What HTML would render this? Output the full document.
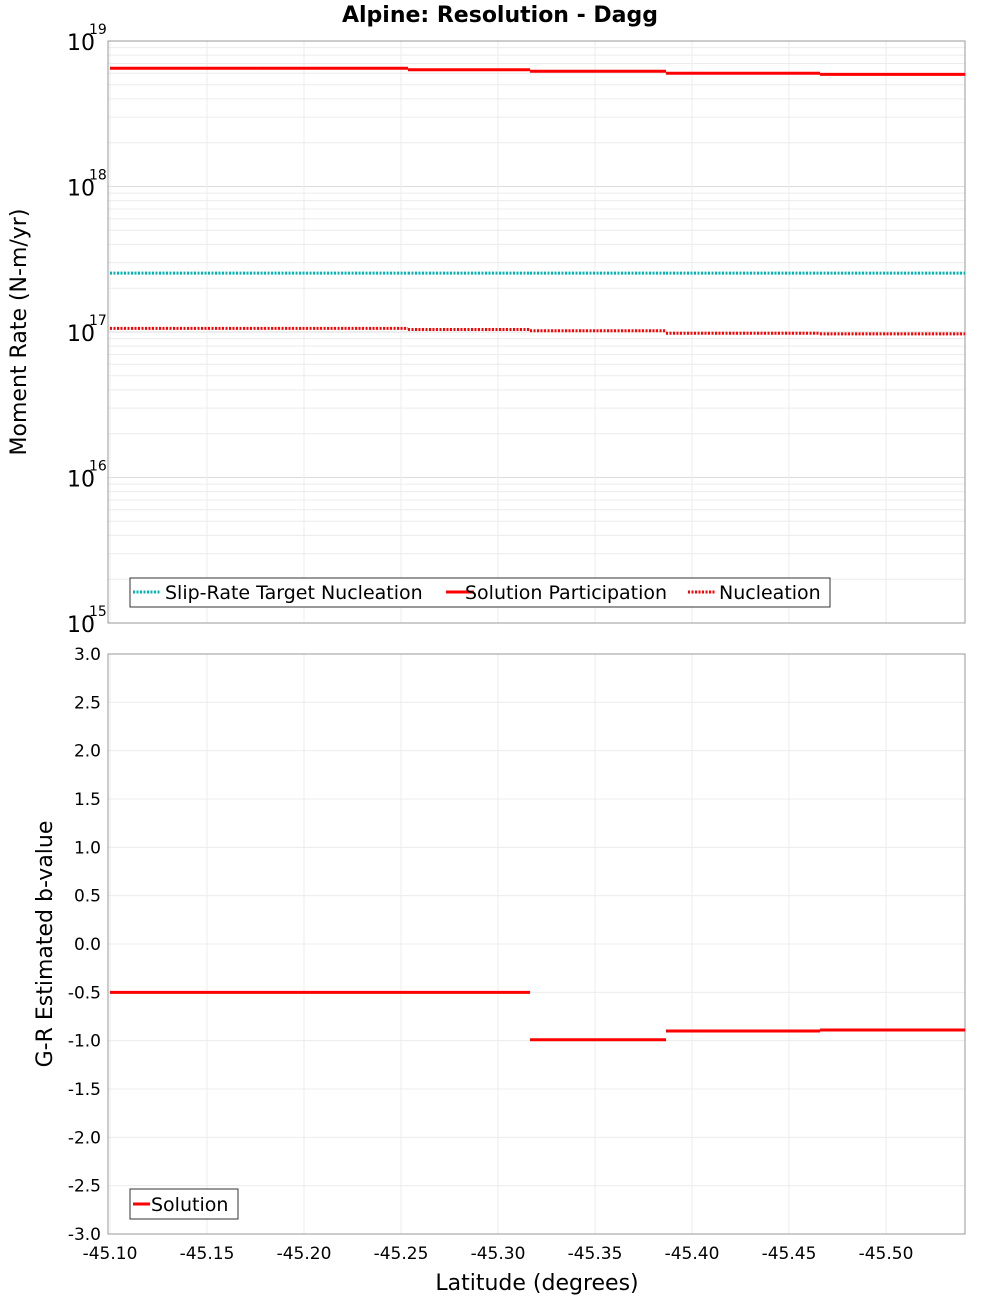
<!DOCTYPE html>
<html><head><meta charset="utf-8"><style>
body{margin:0;background:#fff;font-family:"DejaVu Sans","Liberation Sans",sans-serif;}
</style></head><body>
<svg id="chart" width="1000" height="1300" xmlns="http://www.w3.org/2000/svg" font-family="DejaVu Sans, Liberation Sans, sans-serif">
<text x="500" y="22" text-anchor="middle" font-size="22" font-weight="bold">Alpine: Resolution - Dagg</text>
<g id="topG"></g><g id="botG"></g>
</svg>
<script>
const segEdges = [-45.10, -45.1758, -45.2536, -45.3165, -45.3866, -45.4660, -45.5407];
const targetNucleation = [2.54e17, 2.54e17, 2.54e17, 2.54e17, 2.54e17, 2.54e17];
const solutionParticipation = [6.5e18, 6.5e18, 6.35e18, 6.2e18, 6.0e18, 5.9e18];
const nucleation = [1.06e17, 1.06e17, 1.04e17, 1.02e17, 0.98e17, 0.97e17];
const bValues = [-0.5, -0.5, -0.5, -0.99, -0.9, -0.89];
const xTicks = [-45.10, -45.15, -45.20, -45.25, -45.30, -45.35, -45.40, -45.45, -45.50];
const logExps = [15, 16, 17, 18, 19];
const bTicks = [-3.0,-2.5,-2.0,-1.5,-1.0,-0.5,0.0,0.5,1.0,1.5,2.0,2.5,3.0];

const NS="http://www.w3.org/2000/svg";
const L=108,R=965;
const xs=v=>110+(-45.10-v)/0.05*97;
const T1=41,B1=623;
const ys1=v=>B1-(Math.log10(v)-15)/4*(B1-T1);
const T2=654,B2=1234;
const ys2=v=>B2-(v+3)/6*(B2-T2);
function mk(p,tag,a,txt){const e=document.createElementNS(NS,tag);for(const k in a)e.setAttribute(k,a[k]);if(txt!==undefined)e.textContent=txt;p.appendChild(e);return e;}
const topG=document.getElementById('topG'),botG=document.getElementById('botG');

for(let e=15;e<19;e++)for(let m=2;m<10;m++){const y=ys1(m*Math.pow(10,e));
 const g=mk(topG,'line',{x1:L,x2:R,y1:y,y2:y,stroke:'#ececec','stroke-width':1});
 
 }
logExps.forEach(e=>{const y=ys1(Math.pow(10,e));
 const g=mk(topG,'line',{x1:L,x2:R,y1:y,y2:y,stroke:'#dcdcdc','stroke-width':1});
 
 
 const t=mk(topG,'text',{x:95,y:y+9,'text-anchor':'end','font-size':22},'10');
 
 
 const s=mk(topG,'text',{x:89,y:y-7,'font-size':14},String(e));
 
 
});
xTicks.forEach(v=>{const x=xs(v);
 [[topG,T1,B1],[botG,T2,B2]].forEach(([p,a,b])=>{const g=mk(p,'line',{x1:x,x2:x,y1:a,y2:b,stroke:'#ececec'});
 
 });
 const t=mk(botG,'text',{x:x,y:1259,'text-anchor':'middle','font-size':17},v.toFixed(2));
 
 
});
const f1=mk(topG,'rect',{x:L,y:T1,width:R-L,height:B1-T1,fill:'none',stroke:'#999'});



function steps(p,arr,ys,color,dash,name){
 arr.forEach((v,i)=>{const l=mk(p,'line',{x1:xs(segEdges[i]),x2:xs(segEdges[i+1]),y1:ys(v),y2:ys(v),stroke:color,'stroke-width':3});
 if(dash)l.setAttribute('stroke-dasharray',dash);
 
 });
}
steps(topG,targetNucleation,ys1,'#00b4b4','2,1.5','target-nucleation-segment');
steps(topG,solutionParticipation,ys1,'#ff0000',null,'solution-participation-segment');
steps(topG,nucleation,ys1,'#ff0000','2,1.5','nucleation-segment');

const ya=mk(topG,'text',{transform:'translate(26,332) rotate(-90)','text-anchor':'middle','font-size':22},'Moment Rate (N-m/yr)');



const lg=mk(topG,'g',{});


mk(lg,'rect',{x:130,y:578,width:700,height:29,fill:'#fff',stroke:'#333'});
[[133,'#00b4b4','2,1.5','Slip-Rate Target Nucleation',165],[446,'#ff0000',null,'Solution Participation',465],[688,'#ff0000','2,1.5','Nucleation',719]].forEach(([x,c,d,t,tx])=>{
 const l=mk(lg,'line',{x1:x,x2:x+28,y1:592,y2:592,stroke:c,'stroke-width':3});if(d)l.setAttribute('stroke-dasharray',d);
 
 
 const tt=mk(lg,'text',{x:tx,y:599,'font-size':19},t);
 
 });

bTicks.forEach(v=>{const y=ys2(v);
 const g=mk(botG,'line',{x1:L,x2:R,y1:y,y2:y,stroke:'#ececec'});
 
 
 const t=mk(botG,'text',{x:101,y:y+6,'text-anchor':'end','font-size':17},v.toFixed(1));
 
 });
const f2=mk(botG,'rect',{x:L,y:T2,width:R-L,height:B2-T2,fill:'none',stroke:'#999'});


steps(botG,bValues,ys2,'#ff0000',null,'b-value-segment');
const yb=mk(botG,'text',{transform:'translate(52,944) rotate(-90)','text-anchor':'middle','font-size':22},'G-R Estimated b-value');


const xa=mk(botG,'text',{x:537,y:1290,'text-anchor':'middle','font-size':22},'Latitude (degrees)');


const lg2=mk(botG,'g',{});


mk(lg2,'rect',{x:130,y:1189,width:108,height:30,fill:'#fff',stroke:'#333'});
const sw=mk(lg2,'line',{x1:133,x2:150,y1:1204,y2:1204,stroke:'#ff0000','stroke-width':3});


const st=mk(lg2,'text',{x:151,y:1211,'font-size':19},'Solution');


</script>
</body></html>
